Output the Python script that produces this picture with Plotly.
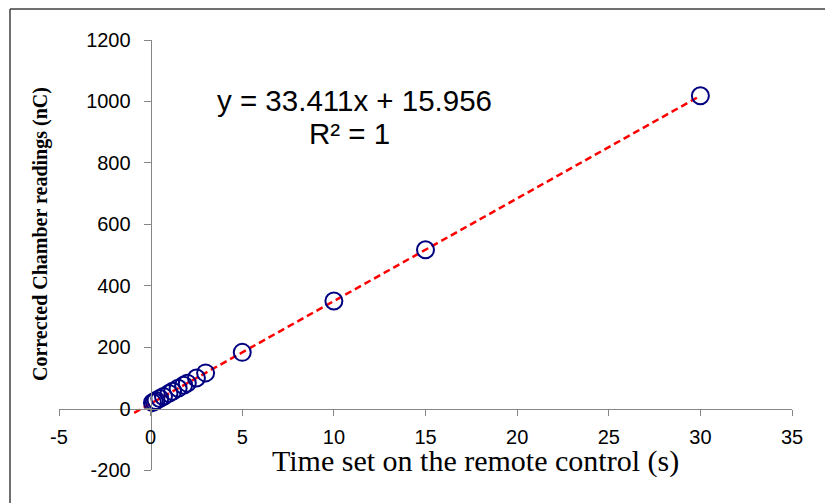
import numpy as np
import plotly.graph_objects as go

# Data
time_s = [0.1, 0.2, 0.3, 0.5, 0.7, 1.0, 1.2, 1.5, 1.8, 2.0, 2.5, 3.0, 5, 10, 15, 30]
charge_nC = [19.3, 22.6, 26.0, 32.7, 39.3, 49.4, 56.1, 66.1, 76.1, 82.8, 99.5, 116.2, 183.0, 350.1, 517.1, 1018.3]
x_ticks = [-5, 0, 5, 10, 15, 20, 25, 30, 35]
y_ticks = [-200, 0, 200, 400, 600, 800, 1000, 1200]
equation_text = "y = 33.411x + 15.956"
r2_text = "R² = 1"
x_title = "Time set on the remote control (s)"
y_title = "Corrected Chamber readings (nC)"

slope, intercept = 33.411, 15.956
trend_x = np.array([min(time_s) - 1.0, max(time_s)])
trend_y = slope * trend_x + intercept

fig = go.Figure()
fig.add_trace(go.Scatter(
    x=trend_x, y=trend_y, mode="lines",
    line=dict(color="#FF0000", width=2.5, dash="7px,4px"),
    hoverinfo="skip", showlegend=False))
fig.add_trace(go.Scatter(
    x=time_s, y=charge_nC, mode="markers",
    marker=dict(symbol="circle-open", size=17, color="#000080",
                line=dict(width=2, color="#000080")),
    showlegend=False))

xr = [-5, 35]
yr = [-200, 1200]
tickfont = dict(family="Liberation Sans, Arial", size=20, color="#000000")

fig.update_layout(
    width=825, height=503,
    margin=dict(l=59, r=33, t=40, b=33),
    paper_bgcolor="white", plot_bgcolor="white",
    xaxis=dict(range=xr, tickvals=x_ticks, ticktext=[str(v) for v in x_ticks],
               showgrid=False, zeroline=False,
               showline=True, linecolor="#868686", linewidth=1,
               ticks="outside", ticklen=6, tickcolor="#868686",
               anchor="free", position=(0 - yr[0]) / (yr[1] - yr[0]),
               tickfont=tickfont, ticklabelstandoff=4),
    yaxis=dict(range=yr, tickvals=y_ticks, ticktext=[str(v) for v in y_ticks],
               showgrid=False, zeroline=False,
               showline=True, linecolor="#868686", linewidth=1,
               ticks="outside", ticklen=7, tickcolor="#868686",
               anchor="free", position=(0 - xr[0]) / (xr[1] - xr[0]),
               tickfont=tickfont, ticklabelstandoff=9),
    shapes=[
        dict(type="line", xref="paper", yref="paper",
             x0=(10 - 59) / 733, x1=1.2, y0=(470 - 9) / 430, y1=(470 - 9) / 430,
             line=dict(color="#404040", width=1.5)),
        dict(type="line", xref="paper", yref="paper",
             x0=(10 - 59) / 733, x1=(10 - 59) / 733, y0=(470 - 9) / 430, y1=-0.2,
             line=dict(color="#404040", width=1.5)),
    ],
    annotations=[
        dict(text=equation_text, xref="paper", yref="paper",
             x=(354 - 59) / 733, y=(470 - 100) / 430, showarrow=False,
             xanchor="center", yanchor="middle",
             font=dict(family="Liberation Sans, Arial", size=29.5, color="#000000")),
        dict(text=r2_text, xref="paper", yref="paper",
             x=(349 - 59) / 733, y=(470 - 133) / 430, showarrow=False,
             xanchor="center", yanchor="middle",
             font=dict(family="Liberation Sans, Arial", size=29.5, color="#000000")),
        dict(text=x_title, xref="paper", yref="paper",
             x=(475 - 59) / 733, y=(470 - 461) / 430, showarrow=False,
             xanchor="center", yanchor="middle",
             font=dict(family="Liberation Serif, Times New Roman", size=30, color="#000000")),
        dict(text="<b>" + y_title + "</b>", xref="paper", yref="paper",
             x=(40 - 59) / 733, y=(470 - 234) / 430, showarrow=False,
             textangle=-90, xanchor="center", yanchor="middle",
             font=dict(family="Liberation Serif, Times New Roman", size=20, color="#000000")),
    ],
)

fig.write_html("out.html")
